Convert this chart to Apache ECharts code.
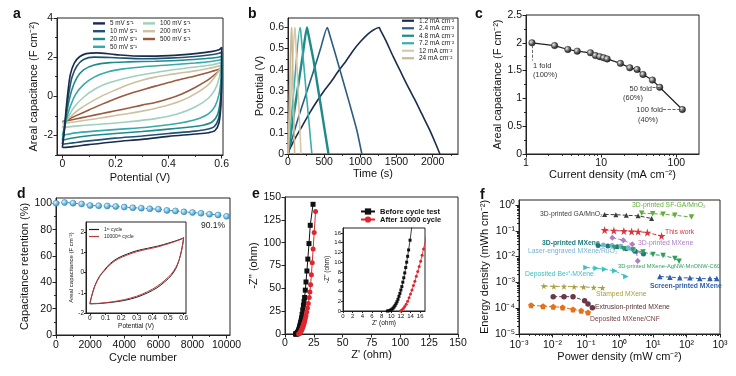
<!DOCTYPE html>
<html><head><meta charset="utf-8">
<script src="https://cdn.jsdelivr.net/npm/echarts@6/dist/echarts.min.js"></script>
<style>html,body{margin:0;padding:0;background:#fff}#c{width:736px;height:376px}</style>
</head><body><div id="c"></div>
<script>
// ================= DATA =================
// Panel a: CV loops at different scan rates [potential (V), areal capacitance (F cm-2)]
const cvNames = ['5 mV s⁻¹','10 mV s⁻¹','20 mV s⁻¹','50 mV s⁻¹','100 mV s⁻¹','200 mV s⁻¹','500 mV s⁻¹'];
const cv5 = [[0,-2.62],[0.006,-2.0],[0.012,-1.0],[0.02,0.1],[0.03,1.1],[0.045,1.7],[0.065,2.02],[0.09,2.18],[0.13,2.22],[0.2,2.13],[0.3,2.05],[0.4,2.08],[0.5,2.18],[0.56,2.28],[0.59,2.38],[0.6,2.5],[0.6,1.2],[0.597,-0.5],[0.59,-1.35],[0.575,-1.75],[0.55,-1.86],[0.5,-1.93],[0.4,-2.05],[0.3,-2.2],[0.2,-2.32],[0.1,-2.47],[0.04,-2.57],[0,-2.62]];
const cv10 = [[0,-2.45],[0.007,-1.8],[0.015,-0.8],[0.025,0.2],[0.037,1.0],[0.055,1.55],[0.08,1.88],[0.12,2.0],[0.2,1.97],[0.3,1.92],[0.4,1.95],[0.5,2.03],[0.56,2.12],[0.59,2.2],[0.6,2.25],[0.6,1.0],[0.596,-0.4],[0.588,-1.15],[0.572,-1.55],[0.54,-1.7],[0.5,-1.78],[0.4,-1.9],[0.3,-2.03],[0.2,-2.14],[0.1,-2.28],[0.04,-2.38],[0,-2.45]];
const cv20 = [[0,-2.25],[0.01,-1.5],[0.02,-0.6],[0.035,0.3],[0.055,0.95],[0.08,1.35],[0.12,1.6],[0.18,1.72],[0.25,1.76],[0.35,1.79],[0.45,1.84],[0.53,1.92],[0.58,1.98],[0.6,2.05],[0.6,0.9],[0.594,-0.3],[0.584,-0.95],[0.565,-1.3],[0.53,-1.48],[0.48,-1.57],[0.4,-1.68],[0.3,-1.8],[0.2,-1.9],[0.1,-2.02],[0.04,-2.13],[0,-2.25]];
const cv50 = [[0,-2.0],[0.012,-1.35],[0.028,-0.6],[0.05,0.1],[0.08,0.6],[0.12,0.98],[0.17,1.24],[0.23,1.4],[0.3,1.5],[0.4,1.6],[0.5,1.7],[0.56,1.78],[0.6,1.88],[0.598,0.9],[0.59,0.1],[0.575,-0.5],[0.55,-0.9],[0.5,-1.2],[0.42,-1.42],[0.32,-1.58],[0.22,-1.68],[0.12,-1.78],[0.05,-1.87],[0,-2.0]];
const cv100 = [[0,-1.6],[0.02,-1.1],[0.045,-0.55],[0.08,-0.05],[0.12,0.35],[0.17,0.66],[0.23,0.9],[0.3,1.1],[0.4,1.32],[0.5,1.5],[0.56,1.6],[0.6,1.72],[0.59,0.9],[0.575,0.35],[0.55,-0.1],[0.5,-0.55],[0.43,-0.92],[0.35,-1.14],[0.25,-1.3],[0.15,-1.42],[0.07,-1.5],[0,-1.6]];
const cv200 = [[0,-1.4],[0.03,-1.05],[0.06,-0.7],[0.1,-0.35],[0.15,0.02],[0.2,0.32],[0.25,0.6],[0.3,0.82],[0.35,0.98],[0.4,1.1],[0.45,1.2],[0.5,1.3],[0.55,1.42],[0.6,1.58],[0.58,1.1],[0.55,0.6],[0.5,0.12],[0.45,-0.22],[0.4,-0.45],[0.35,-0.62],[0.3,-0.76],[0.25,-0.88],[0.2,-0.98],[0.15,-1.1],[0.1,-1.2],[0.05,-1.3],[0,-1.4]];
const cv500 = [[0,-1.3],[0.05,-1.0],[0.1,-0.7],[0.15,-0.4],[0.2,-0.12],[0.25,0.12],[0.3,0.32],[0.35,0.52],[0.4,0.7],[0.45,0.88],[0.5,1.04],[0.55,1.22],[0.6,1.42],[0.55,0.85],[0.5,0.45],[0.45,0.12],[0.4,-0.13],[0.35,-0.32],[0.3,-0.45],[0.25,-0.6],[0.2,-0.74],[0.15,-0.88],[0.1,-1.02],[0.05,-1.16],[0,-1.3]];

// Panel b: GCD curves [time (s), potential (V)]
const gcdNames = ['1.2 mA cm⁻²','2.4 mA cm⁻²','4.8 mA cm⁻²','7.2 mA cm⁻²','12 mA cm⁻²','24 mA cm⁻²'];
const gcd1_2 = [[0,0],[20,0.02],[100,0.075],[200,0.135],[300,0.195],[400,0.25],[500,0.3],[600,0.345],[700,0.395],[800,0.44],[900,0.49],[1000,0.532],[1100,0.567],[1180,0.588],[1262,0.6],[1275,0.59],[1350,0.54],[1450,0.465],[1550,0.395],[1650,0.325],[1750,0.26],[1850,0.19],[1950,0.12],[2040,0.05],[2100,0]];
const gcd2_4 = [[0,0],[50,0.065],[150,0.18],[250,0.285],[350,0.39],[450,0.5],[543,0.6],[555,0.59],[650,0.48],[750,0.36],[850,0.24],[950,0.115],[1021,0]];
const gcd4_8 = [[0,0],[50,0.12],[130,0.3],[200,0.46],[262,0.6],[272,0.585],[350,0.45],[420,0.3],[490,0.15],[560,0]];
const gcd7_2 = [[0,0],[80,0.3],[165,0.6],[175,0.585],[250,0.3],[330,0]];
const gcd12 = [[0,0],[45,0.3],[92,0.6],[100,0.585],[140,0.3],[180,0]];
const gcd24 = [[0,0],[22,0.3],[46,0.6],[52,0.585],[72,0.3],[92,0]];

// Panel c: rate capability
const cCurrent = [1.2,2.4,3.6,4.8,7.2,8.4,9.6,10.8,12,18,24,30,36,48,60,120];
const cCap = [2.0,1.95,1.88,1.85,1.82,1.77,1.75,1.73,1.71,1.63,1.55,1.52,1.43,1.33,1.2,0.8];

// Panel d: cycling stability
const dCycles = [0,500,1000,1500,2000,2500,3000,3500,4000,4500,5000,5500,6000,6500,7000,7500,8000,8500,9000,9500,10000];
const dRetention = [100,100.6,100.1,99.5,98.3,98.1,98,97.6,97.1,96.6,96.3,95.8,95.5,94.6,94.2,93.5,93,92.4,91.7,91.1,90.1];
// Panel d inset: CV 1st vs 10000th cycle
const cvFirst = [[0,-1.55],[0.01,-1.2],[0.03,-0.68],[0.06,-0.2],[0.09,0.1],[0.13,0.45],[0.18,0.72],[0.24,0.92],[0.3,1.08],[0.37,1.2],[0.44,1.32],[0.5,1.45],[0.55,1.57],[0.59,1.68],[0.6,1.73],[0.595,1.45],[0.585,1.05],[0.57,0.6],[0.55,0.2],[0.52,-0.15],[0.48,-0.45],[0.43,-0.75],[0.37,-1.0],[0.3,-1.22],[0.22,-1.38],[0.14,-1.47],[0.06,-1.53],[0,-1.55]];
const cvLast = [[0,-1.53],[0.012,-1.15],[0.032,-0.66],[0.062,-0.2],[0.092,0.08],[0.13,0.4],[0.18,0.67],[0.24,0.87],[0.3,1.03],[0.37,1.16],[0.44,1.28],[0.5,1.42],[0.55,1.55],[0.59,1.67],[0.6,1.72],[0.595,1.45],[0.585,1.02],[0.57,0.6],[0.55,0.26],[0.52,-0.08],[0.48,-0.38],[0.43,-0.68],[0.37,-0.94],[0.3,-1.17],[0.22,-1.34],[0.14,-1.45],[0.06,-1.52],[0,-1.53]];

// Panel e: Nyquist plots
const eBeforeRe = [9.2,9.5,9.8,10.0,10.2,10.4,10.6,10.8,11.0,11.2,11.4,11.6,11.8,12.0,12.2,12.4,12.6,12.8,13.0,13.2,13.4,13.6,13.9,14.3,14.8,15.4,16.0,16.5,17.0,17.6,18.2,19.0,19.8,20.8,21.9,24.3];
const eBeforeIm = [0,0.05,0.15,0.25,0.4,0.6,0.85,1.15,1.5,1.9,2.4,3.0,3.6,4.3,5.0,5.9,6.8,7.8,8.9,10.0,11.2,12.5,14.5,17.5,21.5,26.5,31.5,35.5,40,48,57,69,82,99,119,142];
const eAfterRe = [11.9,12.2,12.5,12.8,13.1,13.4,13.7,14.0,14.3,14.6,14.9,15.2,15.5,15.8,16.1,16.4,16.7,17.1,17.6,18.2,18.8,19.5,20.2,21.0,21.6,22.2,22.9,23.6,24.4,25.3,26.5];
const eAfterIm = [0,0.2,0.5,0.9,1.4,2.0,2.7,3.5,4.3,5.2,6.1,7.1,8.1,9.1,10.2,11.4,12.7,14.5,17,20,24,28.5,33.5,40,46,54,65,78,93,111,134];

// Panel f: Ragone plot [power density (mW cm-2)], [energy density (mWh cm-2)]
const fGA_P = [0.36,0.78,1.6,3.6,9.1], fGA_E = [0.43,0.42,0.40,0.38,0.30];
const fSF_P = [4.6,9.8,20,45,141], fSF_E = [0.48,0.46,0.44,0.40,0.34];
const fThis_P = [0.36,0.68,1.35,2.3,3.6,6.8,18], fThis_E = [0.107,0.102,0.098,0.094,0.093,0.085,0.063];
const fPur_P = [0.61,1.3,2.4,3.2,3.5], fPur_E = [0.054,0.043,0.030,0.0155,0.0068];
const fTeal_P = [0.23,0.45,0.85,1.6,2.9,5.2], fTeal_E = [0.027,0.026,0.024,0.020,0.016,0.0125];
const fLaser_P = [0.33,0.6,1.1,1.8,2.6], fLaser_E = [0.028,0.027,0.025,0.022,0.019];
const fAg_P = [0.7,1.3,2.5,5,10,20,45,60], fAg_E = [0.022,0.020,0.018,0.015,0.012,0.011,0.0085,0.0066];
const fBe_P = [0.10,0.20,0.36,0.72,1.55], fBe_E = [0.0038,0.0035,0.0032,0.0028,0.0017];
const fScr_P = [16,32,63,126,250,500,800], fScr_E = [0.0017,0.0016,0.0015,0.0015,0.0014,0.0014,0.0014];
const fSt_P = [0.0055,0.011,0.022,0.044,0.085,0.17,0.31], fSt_E = [0.00072,0.0007,0.0007,0.00068,0.00066,0.00064,0.00062];
const fEx_P = [0.0105,0.022,0.041,0.091,0.115,0.155], fEx_E = [0.00028,0.00028,0.00028,0.000195,0.000145,0.000105];
const fCnf_P = [0.0023,0.0052,0.0105,0.020,0.041,0.072,0.115], fCnf_E = [0.00013,0.00012,0.000115,0.000107,0.00009,0.00008,0.000068];

// Tick values
const aXTicks = [0,0.2,0.4,0.6], aYTicks = [-2,0,2,4];
const bXTicks = [0,500,1000,1500,2000], bYTicks = [0,0.1,0.2,0.3,0.4,0.5,0.6];
const cXTicks = [1,10,100], cYTicks = [0,0.5,1,1.5,2,2.5];
const dXTicks = [0,2000,4000,6000,8000,10000], dYTicks = [0,20,40,60,80,100];
const diXTicks = [0,0.1,0.2,0.3,0.4,0.5,0.6], diYTicks = [-2,-1,0,1,2];
const eTicks = [0,25,50,75,100,125,150];
const eiTicks = [0,2,4,6,8,10,12,14,16];
const fXTicks = [1e-3,1e-2,1e-1,1,10,100,1000], fYTicks = [1e-5,1e-4,1e-3,1e-2,1e-1,1];

// ================= HELPERS =================
const FONT = '"Liberation Sans", Arial, sans-serif';
const SUP = {'-':'⁻','0':'⁰','1':'¹','2':'²','3':'³','4':'⁴','5':'⁵','6':'⁶','7':'⁷','8':'⁸','9':'⁹'};
const pow10Label = v => '10' + String(Math.round(Math.log10(v))).split('').map(c => SUP[c]).join('');
const zip = (a, b) => a.map((v, i) => [v, b[i]]);
const mids = (t) => t.slice(1).map((v, i) => (v + t[i]) / 2);
function logMinors(lo, hi){ const o=[]; for(let e=lo;e<hi;e++) for(let k=2;k<=9;k++) o.push(+(k*Math.pow(10,e)).toPrecision(3)); return o; }

const xAxes = [], yAxes = [];
function mk(dim, gi, o){
  const base = {gridIndex: gi, type: o.type || 'value', min: o.min, max: o.max,
    position: dim === 'x' ? 'bottom' : 'left', splitLine:{show:false}, axisPointer:{show:false}};
  if (o.type === 'log') base.logBase = 10;
  const tl = o.tl !== undefined ? o.tl : 3.5;
  const main = Object.assign({}, base, {
    axisLine:{show:true, onZero:false, lineStyle:{color:'#222', width:1}},
    axisTick:{show:true, inside:false, length:tl, customValues:o.major, lineStyle:{color:'#222', width:1}},
    axisLabel:{show:true, customValues:o.major, formatter:o.fmt || (v => String(v)),
      fontSize:o.fs || 10.5, fontFamily:FONT, color:'#111', margin:o.lm !== undefined ? o.lm : 4},
    name:o.name, nameLocation:'middle', nameGap:o.ng,
    nameTextStyle:{fontSize:o.nfs || 11, fontFamily:FONT, color:'#111'}
  });
  const arr = dim === 'x' ? xAxes : yAxes;
  arr.push(main); const idx = arr.length - 1;
  if (o.minor) arr.push(Object.assign({}, base, {axisLine:{show:false, onZero:false},
    axisTick:{show:true, inside:false, length:tl*0.55, customValues:o.minor, lineStyle:{color:'#222', width:1}},
    axisLabel:{show:false}}));
  return idx;
}

const grids = [
  {left:57, top:18, width:166, height:137},
  {left:288, top:18, width:170, height:136},
  {left:526, top:15, width:173, height:139},
  {left:56, top:198, width:174, height:137},
  {left:86, top:222, width:100, height:91, backgroundColor:'#fff'},
  {left:285, top:197, width:173, height:137},
  {left:343, top:228, width:82, height:83, backgroundColor:'#fff'},
  {left:519, top:200, width:201, height:134}
].map(g => Object.assign({show:true, borderColor:'#222', borderWidth:1, backgroundColor:'transparent', containLabel:false, outerBoundsMode:'none'}, g));

// axes
const ax = mk('x',0,{min:-0.02,max:0.605,major:aXTicks,minor:mids(aXTicks),name:'Potential (V)',ng:17});
const ay = mk('y',0,{min:-3,max:4,major:aYTicks,minor:[-3,-1,1,3],name:'Areal capacitance (F cm⁻²)',ng:17});
const bx = mk('x',1,{min:0,max:2350,major:bXTicks,minor:[250,750,1250,1750,2250],name:'Time (s)',ng:11,lm:3});
const by = mk('y',1,{min:0,max:0.645,major:bYTicks,minor:mids(bYTicks),name:'Potential (V)',ng:22});
const cx = mk('x',2,{type:'log',min:1,max:200,major:cXTicks,minor:logMinors(0,2),name:'Current density (mA cm⁻²)',ng:14});
const cy = mk('y',2,{min:0,max:2.5,major:cYTicks,minor:mids(cYTicks),name:'Areal capacitance (F cm⁻²)',ng:19});
const dx = mk('x',3,{min:0,max:10200,major:dXTicks,minor:mids(dXTicks),name:'Cycle number',ng:17,lm:5});
const dy = mk('y',3,{min:0,max:104,major:dYTicks,minor:mids(dYTicks),name:'Capacitance retention (%)',ng:22});
const dix = mk('x',4,{min:-0.025,max:0.615,major:diXTicks,fs:6.5,nfs:6.5,tl:2,lm:2,name:'Potential (V)',ng:9});
const diy = mk('y',4,{min:-2,max:2.5,major:diYTicks,fs:6.5,nfs:6,tl:2,lm:2,name:'Areal capacitance (F cm⁻²)',ng:8});
const ex = mk('x',5,{min:0,max:150,major:eTicks,name:"Z' (ohm)",ng:11});
const ey = mk('y',5,{min:0,max:150,major:eTicks,name:"-Z'' (ohm)",ng:20});
const eix = mk('x',6,{min:0,max:17,major:eiTicks,fs:6,nfs:6.5,tl:2,lm:2,name:"Z' (ohm)",ng:8});
const eiy = mk('y',6,{min:0,max:17,major:eiTicks,fs:6,nfs:6.5,tl:2,lm:2,name:"-Z'' (ohm)",ng:9});
const fx = mk('x',7,{type:'log',min:1e-3,max:1e3,major:fXTicks,minor:logMinors(-3,3),fmt:pow10Label,name:'Power density (mW cm⁻²)',ng:17,lm:6});
const fy = mk('y',7,{type:'log',min:1e-5,max:1.56,major:fYTicks,minor:logMinors(-5,0),fmt:pow10Label,name:'Energy density (mWh cm⁻²)',ng:28});

// ================= SERIES =================
const series = [];
const cvColors = ['#1b2b4b','#1f5272','#1f8a8a','#36aaa6','#9fcfbd','#cdc19f','#9a5a3e'];
[cv5,cv10,cv20,cv50,cv100,cv200,cv500].forEach((d,i) => series.push({type:'line', name:cvNames[i], xAxisIndex:ax, yAxisIndex:ay,
  data:d, symbol:'none', smooth:0.3, lineStyle:{width:1.6, color:cvColors[i]}, itemStyle:{color:cvColors[i]}, z:10-i}));

const gcdColors = ['#1c2d4c','#2c5c80','#1e8a8a','#3aada8','#d6c8aa','#c9b894'];
const gcdWidths = [1.6,1.6,2.4,1.6,1.6,1.6];
[gcd1_2,gcd2_4,gcd4_8,gcd7_2,gcd12,gcd24].forEach((d,i) => series.push({type:'line', name:gcdNames[i], xAxisIndex:bx, yAxisIndex:by,
  data:d, symbol:'none', smooth:0.2, lineStyle:{width:gcdWidths[i], color:gcdColors[i]}, itemStyle:{color:gcdColors[i]}}));

const sphere = (hi, mid, lo) => ({type:'radial', x:0.35, y:0.35, r:0.75, colorStops:[{offset:0,color:hi},{offset:0.55,color:mid},{offset:1,color:lo}]});
series.push({type:'line', name:'rate', xAxisIndex:cx, yAxisIndex:cy, data:zip(cCurrent,cCap), symbol:'circle', symbolSize:6.5,
  lineStyle:{color:'#222', width:1.2}, itemStyle:{color:sphere('#eeeeee','#555','#111'), borderColor:'#111', borderWidth:0.4},
  markLine:{silent:true, symbol:'none', label:{show:false}, lineStyle:{type:'dashed', color:'#444', width:0.8},
    data:[[{coord:[1.2,1.96]},{coord:[1.2,1.68]}],[{coord:[48,1.2]},{coord:[60,1.2]}],[{coord:[66,0.8]},{coord:[120,0.8]}]]}});

series.push({type:'line', name:'retention', xAxisIndex:dx, yAxisIndex:dy, data:zip(dCycles,dRetention), symbol:'circle', symbolSize:6,
  lineStyle:{type:'dashed', width:1, color:'#3b8fbf'}, itemStyle:{color:sphere('#e0f4fc','#6ab8de','#2a7fb0'), borderColor:'#2a7fb0', borderWidth:0.5}});
series.push({type:'line', name:'1ˢᵗ cycle', xAxisIndex:dix, yAxisIndex:diy, data:cvFirst, symbol:'none', smooth:0.3, lineStyle:{width:1, color:'#222'}, itemStyle:{color:'#222'}});
series.push({type:'line', name:'10000ᵗʰ cycle', xAxisIndex:dix, yAxisIndex:diy, data:cvLast, symbol:'none', smooth:0.3, lineStyle:{width:1, color:'#c0393f'}, itemStyle:{color:'#c0393f'}});

const eB = zip(eBeforeRe,eBeforeIm), eA = zip(eAfterRe,eAfterIm);
series.push({type:'line', name:'Before cycle test', xAxisIndex:ex, yAxisIndex:ey, data:eB, symbol:'rect', symbolSize:5, lineStyle:{width:1,color:'#111'}, itemStyle:{color:'#111'}});
series.push({type:'line', name:'After 10000 cycle', xAxisIndex:ex, yAxisIndex:ey, data:eA, symbol:'circle', symbolSize:5, lineStyle:{width:1,color:'#e0262c'}, itemStyle:{color:'#e0262c'}});
series.push({type:'line', name:'Before cycle test', xAxisIndex:eix, yAxisIndex:eiy, data:eB, symbol:'rect', symbolSize:3, lineStyle:{width:0.8,color:'#111'}, itemStyle:{color:'#111'}});
series.push({type:'line', name:'After 10000 cycle', xAxisIndex:eix, yAxisIndex:eiy, data:eA, symbol:'circle', symbolSize:3, lineStyle:{width:0.8,color:'#e0262c'}, itemStyle:{color:'#e0262c'}});

const STAR = 'path://M50,0 L61,35 L98,35 L68,57 L79,91 L50,70 L21,91 L32,57 L2,35 L39,35 Z';
const PENT = 'path://M50,0 L98,35 L79,91 L21,91 L2,35 Z';
const fSets = [
  ['3D-printed GA/MnO₂', fGA_P, fGA_E, 'triangle', 0, 5, '#3c3c3c'],
  ['3D-printed SF-GA/MnO₂', fSF_P, fSF_E, 'triangle', 180, 5.5, '#5fae3a'],
  ['This work', fThis_P, fThis_E, STAR, 0, 8, '#d8343c'],
  ['3D-printed MXene (b)', fPur_P, fPur_E, 'diamond', 0, 6, '#b07cc6'],
  ['3D-printed MXene (a)', fTeal_P, fTeal_E, 'circle', 0, 5, '#1a7a78'],
  ['Laser-engraved MXene/RuO₂', fLaser_P, fLaser_E, 'circle', 0, 5, '#7ab2d2'],
  ['3D-printed MXene-AgNW-MnONW-C60', fAg_P, fAg_E, 'triangle', 180, 5.5, '#2e9e5e'],
  ['Deposited Be²⁺-MXene', fBe_P, fBe_E, 'triangle', -90, 5.5, '#3cc0c0'],
  ['Screen-printed MXene', fScr_P, fScr_E, 'triangle', 0, 5.5, '#2f5fae'],
  ['Stamped MXene', fSt_P, fSt_E, STAR, 0, 6.5, '#a8a040'],
  ['Extrusion-printed MXene', fEx_P, fEx_E, 'circle', 0, 5.5, '#6a3848'],
  ['Deposited MXene/CNF', fCnf_P, fCnf_E, PENT, 0, 6, '#e6701e']
];
fSets.forEach(s => series.push({type:'line', name:s[0], xAxisIndex:fx, yAxisIndex:fy, data:zip(s[1],s[2]),
  symbol:s[3], symbolRotate:s[4], symbolSize:s[5], lineStyle:{type:'dashed', width:1, color:s[6]}, itemStyle:{color:s[6]}}));

// ================= LEGENDS =================
const legBase = {orient:'vertical', padding:0, itemGap:0};
const ts = (fs, lh, extra) => Object.assign({fontFamily:FONT, color:'#222', fontSize:fs, lineHeight:lh}, extra || {});
const legends = [
  Object.assign({}, legBase, {data:cvNames.slice(0,4), left:93, top:19.5, icon:'rect', itemWidth:12, itemHeight:2.4, textStyle:ts(6.3,7.8)}),
  Object.assign({}, legBase, {data:cvNames.slice(4), left:143, top:19.5, icon:'rect', itemWidth:12, itemHeight:2.4, textStyle:ts(6.3,7.8)}),
  Object.assign({}, legBase, {data:gcdNames, left:402, top:17, icon:'rect', itemWidth:12, itemHeight:2.2, textStyle:ts(6.5,7.5)}),
  Object.assign({}, legBase, {data:['1ˢᵗ cycle','10000ᵗʰ cycle'], left:89, top:226, icon:'rect', itemWidth:10, itemHeight:1.2, textStyle:ts(5,7)}),
  Object.assign({}, legBase, {data:['Before cycle test','After 10000 cycle'], left:360, top:207.5, itemWidth:14, itemHeight:7.8, textStyle:ts(7.5,7.8,{color:'#111',fontWeight:'bold'})})
];

// ================= TEXT ANNOTATIONS =================
const graphics = [];
function txt(x, y, text, o){ o = o || {}; graphics.push({type:'text', x:x, y:y, silent:true, z:100,
  style:{text:text, fill:o.color || '#111', font:(o.weight || 'normal') + ' ' + (o.size || 8) + 'px ' + FONT,
    align:o.align || 'left', verticalAlign:o.va || 'middle', textAlign:o.align || 'left', textVerticalAlign:o.va || 'middle'}}); }
[['a',13,21],['b',248,21],['c',475,21],['d',17,201],['e',252,201.5],['f',480,202]].forEach(p => txt(p[1], p[2], p[0], {weight:'bold', size:14, va:'bottom'}));
// panel c annotations
txt(533, 66, '1 fold', {size:7.5, color:'#333'}); txt(533, 74.5, '(100%)', {size:7.5, color:'#333'});
txt(652, 88.5, '50 fold', {size:7.5, color:'#333', align:'right'}); txt(623, 98, '(60%)', {size:7.5, color:'#333'});
txt(663, 110, '100 fold', {size:7.5, color:'#333', align:'right'}); txt(638, 119.5, '(40%)', {size:7.5, color:'#333'});
// panel d annotation
txt(201, 225.5, '90.1%', {size:8.5, color:'#222'});
// panel f labels
[['3D-printed GA/MnO₂',540,214,'#3c3c3c'],['3D-printed SF-GA/MnO₂',632,205,'#5fae3a'],['This work',665,232,'#d8343c'],
 ['3D-printed MXene',542,243,'#1a7a78','bold'],['3D-printed MXene',638,243,'#b07cc6'],['Laser-engraved MXene/RuO₂',528,251,'#7ab2d2'],
 ['Deposited Be²⁺-MXene',525,274,'#3cc0c0'],['Screen-printed MXene',650,286,'#2f5fae','bold'],['Stamped MXene',596,294,'#a8a040'],
 ['Extrusion-printed MXene',595,307.5,'#5a3030'],['Deposited MXene/CNF',590,319,'#7a4040']
].forEach(l => txt(l[1], l[2], l[0], {size:6.8, color:l[3], weight:l[4] || 'normal'}));
txt(618, 266, '3D-printed MXene-AgNW-MnONW-C60', {size:5.8, color:'#2e9e5e'});

// ================= CHART =================
const chart = echarts.init(document.getElementById('c'), null, {renderer:'canvas'});
chart.setOption({
  animation:false, backgroundColor:'#fff',
  textStyle:{fontFamily:FONT},
  grid:grids, xAxis:xAxes, yAxis:yAxes, series:series, legend:legends, graphic:graphics, tooltip:{show:false}
});
</script></body></html>
